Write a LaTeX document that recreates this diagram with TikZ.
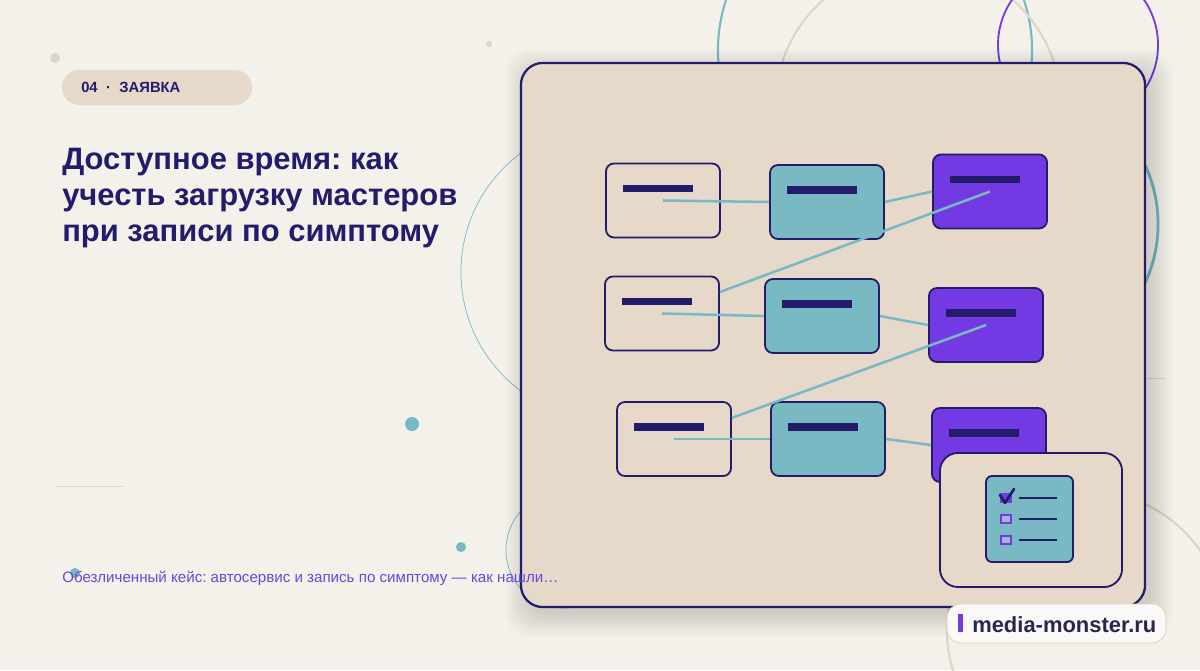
\documentclass[tikz,border=0pt]{standalone}
\usepackage{fontspec}
\setmainfont{Liberation Sans}
\usepackage{tikz}
\usetikzlibrary{positioning, calc}
\usepackage{xcolor}
\frenchspacing
\definecolor{mmbg}{RGB}{244, 241, 235}
\definecolor{mmcard}{RGB}{230, 217, 202}
\definecolor{mmnavy}{RGB}{34, 28, 106}
\definecolor{mmteal}{RGB}{120, 185, 196}
\definecolor{mmpurple}{RGB}{115, 57, 227}
\definecolor{mmviolet}{RGB}{108, 70, 216}
\definecolor{mmsand}{RGB}{224, 212, 196}
\definecolor{mmink}{RGB}{43, 37, 80}
\definecolor{mmpale}{RGB}{160, 184, 214}
\tikzstyle{board} = [rectangle, rounded corners=0.55cm, draw=mmnavy, fill=mmcard, line width=1.6pt,
                     minimum width=15.6cm, minimum height=13.6cm, inner sep=0pt]
\tikzstyle{slotbox} = [rectangle, rounded corners=0.2cm, draw=mmnavy, line width=1.3pt,
                       minimum width=2.85cm, minimum height=1.85cm, inner sep=0pt]
\tikzstyle{freeslot} = [slotbox, fill=mmcard]
\tikzstyle{busyslot} = [slotbox, fill=mmteal]
\tikzstyle{bookslot} = [slotbox, fill=mmpurple]
\tikzstyle{bar} = [rectangle, fill=mmnavy, minimum width=1.75cm, minimum height=0.18cm, inner sep=0pt]
\tikzstyle{link} = [draw=mmteal, line width=1.8pt]
\tikzstyle{dot} = [circle, inner sep=0pt]
\tikzstyle{tick} = [rectangle, minimum width=0.3cm, inner sep=0pt]

\begin{document}
\begin{tikzpicture}[x=0.025cm, y=-0.025cm]

% Background
\fill[mmbg] (0,0) rectangle (1200,670);
\useasboundingbox (0,0) rectangle (1200,670);

% Decorative circles
\draw[mmteal, line width=1.5pt] (875,50) circle[radius=3.925cm];
\draw[mmsand, line width=1.5pt] (918,107) circle[radius=3.575cm];
\draw[mmpurple, line width=1.3pt] (1078,45) circle[radius=2cm];
\draw[mmteal, line width=2pt] (1018,224) circle[radius=3.5cm];
\draw[mmteal, line width=0.5pt] (609,272) circle[radius=3.7cm];
\draw[mmteal, line width=0.5pt] (564,550) circle[radius=1.45cm];
\draw[mmsand, line width=1.5pt] (1086,630) circle[radius=3.475cm];
\draw[mmsand, line width=0.7pt] (57,486) -- (124,486);
\draw[mmsand, line width=0.7pt] (1145,378) -- (1166,378);

% Dots
\node[dot, fill=mmsand, minimum size=0.25cm] (dotA) at (55,58) {};
\node[dot, fill=mmsand, minimum size=0.15cm] (dotB) at (489,44) {};
\node[dot, fill=mmteal, minimum size=0.35cm] (dotC) at (412,424) {};
\node[dot, fill=mmteal, minimum size=0.25cm] (dotD) at (461,547) {};
\node[dot, fill=mmteal, minimum size=0.25cm] (dotE) at (75,573) {};

% Tag and title
\node[rectangle, rounded corners=0.43cm, fill=mmcard, minimum width=4.75cm, minimum height=0.875cm] (tag) at (157,87.5) {};
\node[anchor=base west, inner sep=0pt, font=\fontsize{10.5}{12}\selectfont\bfseries, text=mmnavy] (tagtext) at (81,92) {04\hspace{6pt}·\hspace{6pt}ЗАЯВКА};
\node[anchor=base west, inner sep=0pt, font=\fontsize{22}{26}\selectfont\bfseries, text=mmnavy] (title1) at (62,169) {Доступное время: как};
\node[anchor=base west, inner sep=0pt, font=\fontsize{22}{26}\selectfont\bfseries, text=mmnavy] (title2) at (62,205) {учесть загрузку мастеров};
\node[anchor=base west, inner sep=0pt, font=\fontsize{22}{26}\selectfont\bfseries, text=mmnavy] (title3) at (62,241) {при записи по симптому};

% Board shadow
\foreach \k in {0,...,11}
  \fill[black, opacity=0.013, rounded corners=0.6cm] (527-2*\k,71-2*\k) rectangle (1151+2*\k,615+2*\k);

% Board
\node[board] (board) at (833,335) {};

% Slots
\node[bookslot] (C1) at (990,191.5) {};
\node[bookslot] (C2) at (986,325) {};
\node[bookslot] (C3) at (989,445) {};
\node[busyslot] (B1) at (827,202) {};
\node[busyslot] (B2) at (822,316) {};
\node[busyslot] (B3) at (828,439) {};
\node[freeslot] (A1) at (663,200.5) {};
\node[freeslot] (A2) at (662,313.5) {};
\node[freeslot] (A3) at (674,439) {};

% Links
\draw[link] (A1.center) -- (B1.west);
\draw[link] (A2.center) -- (B2.west);
\draw[link] (A3.center) -- (B3.west);
\draw[link] (B1.east) -- (C1.west);
\draw[link] (B2.east) -- (C2.west);
\draw[link] (B3.east) -- (C3.west);
\draw[link] (A2) -- (C1.center);
\draw[link] (A3) -- (C2.center);

% Bars
\node[bar] (A1bar) at ($(A1)+(-5,-12)$) {};
\node[bar] (A2bar) at ($(A2)+(-5,-12)$) {};
\node[bar] (A3bar) at ($(A3)+(-5,-12)$) {};
\node[bar] (B1bar) at ($(B1)+(-5,-12)$) {};
\node[bar] (B2bar) at ($(B2)+(-5,-12)$) {};
\node[bar] (B3bar) at ($(B3)+(-5,-12)$) {};
\node[bar] (C1bar) at ($(C1)+(-5,-12)$) {};
\node[bar] (C2bar) at ($(C2)+(-5,-12)$) {};
\node[bar] (C3bar) at ($(C3)+(-5,-12)$) {};

% Checklist card
\node[rectangle, rounded corners=0.45cm, draw=mmnavy, fill=mmcard, line width=1.3pt,
      minimum width=4.55cm, minimum height=3.35cm] (checkcard) at (1031,520) {};
\node[rectangle, rounded corners=0.15cm, draw=mmnavy, fill=mmteal, line width=1.3pt,
      minimum width=2.175cm, minimum height=2.15cm] (checklist) at (1029.5,519) {};
\node[tick, fill=mmpurple, minimum height=0.27cm] (tick1) at (1006,498) {};
\node[tick, fill=mmpale, draw=mmpurple, line width=1.4pt, minimum width=0.26cm, minimum height=0.19cm] (tick2) at (1006,519) {};
\node[tick, fill=mmpale, draw=mmpurple, line width=1.4pt, minimum width=0.26cm, minimum height=0.19cm] (tick3) at (1006,540) {};
\draw[mmnavy, line width=1.9pt, line cap=round, line join=round] (1000,495) -- (1005,503) -- (1014,489);
\draw[mmnavy, line width=1.5pt] ($(tick1.east)+(7,0)$) -- ++(38,0);
\draw[mmnavy, line width=1.5pt] ($(tick2.east)+(7,0)$) -- ++(38,0);
\draw[mmnavy, line width=1.5pt] ($(tick3.east)+(7,0)$) -- ++(38,0);

% Caption
\node[anchor=base west, inner sep=0pt, font=\fontsize{10.75}{13}\selectfont, text=mmviolet] (caption) at (62,582)
    {Обезличенный кейс: автосервис и запись по симптому — как нашли…};

% Site badge
\node[rectangle, rounded corners=0.35cm, draw=mmsand, fill=white!60!mmbg, line width=0.6pt,
      minimum width=5.475cm, minimum height=0.975cm] (site) at (1056.5,623.5) {};
\node[rectangle, fill=mmpurple, minimum width=0.125cm, minimum height=0.45cm, inner sep=0pt] (sitebar) at (960.5,623) {};
\node[anchor=base west, inner sep=0pt, font=\fontsize{15.6}{18}\selectfont\bfseries, text=mmink] (sitetext) at (972,632) {media-monster.ru};

\end{tikzpicture}
\end{document}
